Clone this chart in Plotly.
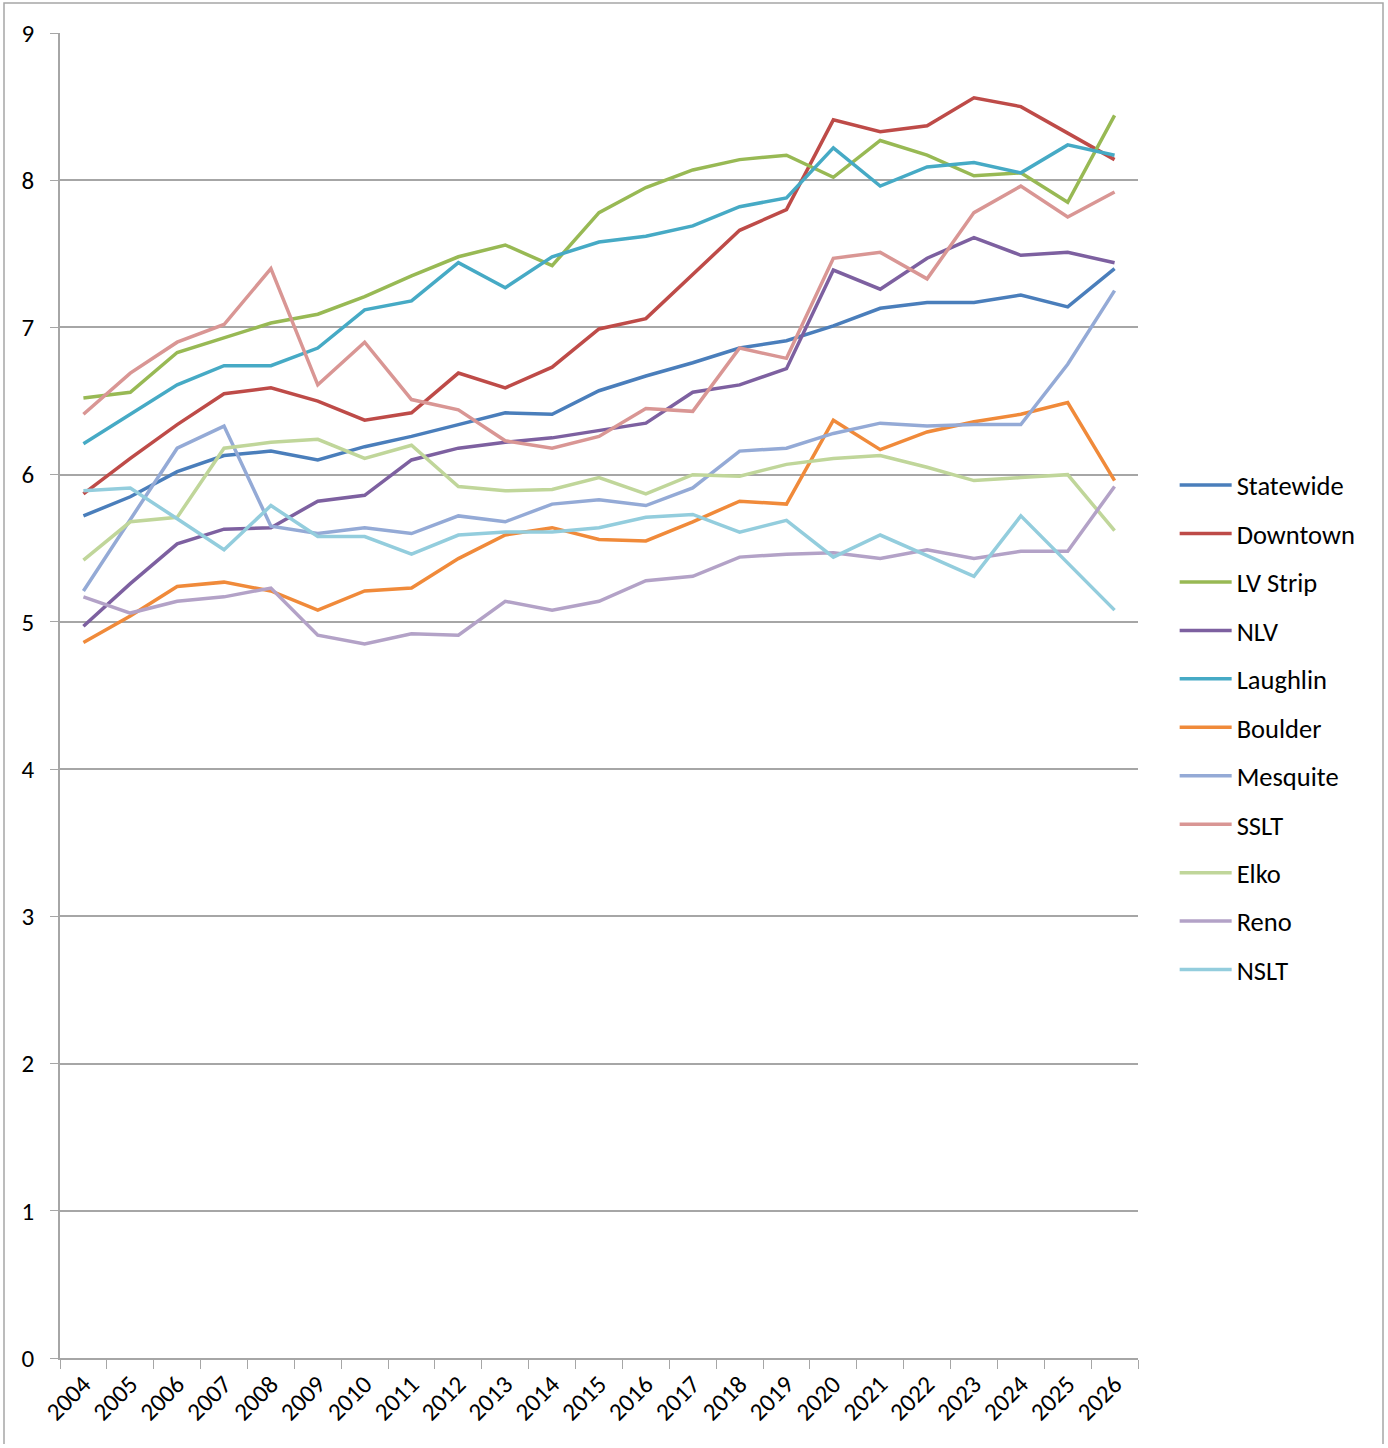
import plotly.graph_objects as go

years = [str(y) for y in range(2004, 2027)]

statewide = [5.72, 5.85, 6.02, 6.13, 6.16, 6.10, 6.19, 6.26, 6.34, 6.42, 6.41, 6.57, 6.67, 6.76, 6.86, 6.91, 7.01, 7.13, 7.17, 7.17, 7.22, 7.14, 7.40]
downtown = [5.87, 6.11, 6.34, 6.55, 6.59, 6.50, 6.37, 6.42, 6.69, 6.59, 6.73, 6.99, 7.06, 7.36, 7.66, 7.80, 8.41, 8.33, 8.37, 8.56, 8.50, 8.32, 8.14]
lv_strip = [6.52, 6.56, 6.83, 6.93, 7.03, 7.09, 7.21, 7.35, 7.48, 7.56, 7.42, 7.78, 7.95, 8.07, 8.14, 8.17, 8.02, 8.27, 8.17, 8.03, 8.05, 7.85, 8.44]
nlv = [4.97, 5.26, 5.53, 5.63, 5.64, 5.82, 5.86, 6.10, 6.18, 6.22, 6.25, 6.30, 6.35, 6.56, 6.61, 6.72, 7.39, 7.26, 7.47, 7.61, 7.49, 7.51, 7.44]
laughlin = [6.21, 6.41, 6.61, 6.74, 6.74, 6.86, 7.12, 7.18, 7.44, 7.27, 7.48, 7.58, 7.62, 7.69, 7.82, 7.88, 8.22, 7.96, 8.09, 8.12, 8.05, 8.24, 8.17]
boulder = [4.86, 5.04, 5.24, 5.27, 5.21, 5.08, 5.21, 5.23, 5.43, 5.59, 5.64, 5.56, 5.55, 5.68, 5.82, 5.80, 6.37, 6.17, 6.29, 6.36, 6.41, 6.49, 5.96]
mesquite = [5.21, 5.69, 6.18, 6.33, 5.65, 5.60, 5.64, 5.60, 5.72, 5.68, 5.80, 5.83, 5.79, 5.91, 6.16, 6.18, 6.28, 6.35, 6.33, 6.34, 6.34, 6.75, 7.25]
sslt = [6.41, 6.69, 6.90, 7.02, 7.40, 6.61, 6.90, 6.51, 6.44, 6.23, 6.18, 6.26, 6.45, 6.43, 6.86, 6.79, 7.47, 7.51, 7.33, 7.78, 7.96, 7.75, 7.92]
elko = [5.42, 5.68, 5.71, 6.18, 6.22, 6.24, 6.11, 6.20, 5.92, 5.89, 5.90, 5.98, 5.87, 6.00, 5.99, 6.07, 6.11, 6.13, 6.05, 5.96, 5.98, 6.00, 5.62]
reno = [5.17, 5.06, 5.14, 5.17, 5.23, 4.91, 4.85, 4.92, 4.91, 5.14, 5.08, 5.14, 5.28, 5.31, 5.44, 5.46, 5.47, 5.43, 5.49, 5.43, 5.48, 5.48, 5.92]
nslt = [5.89, 5.91, 5.70, 5.49, 5.79, 5.58, 5.58, 5.46, 5.59, 5.61, 5.61, 5.64, 5.71, 5.73, 5.61, 5.69, 5.44, 5.59, 5.45, 5.31, 5.72, 5.40, 5.08]

series_names = ["Statewide", "Downtown", "LV Strip", "NLV", "Laughlin", "Boulder",
                "Mesquite", "SSLT", "Elko", "Reno", "NSLT"]
series_values = [statewide, downtown, lv_strip, nlv, laughlin, boulder,
                 mesquite, sslt, elko, reno, nslt]
series_colors = ["#4A7EBB", "#BE4B48", "#98B954", "#7D60A0", "#46AAC5", "#F08A3A",
                 "#94AAD6", "#D99694", "#C0D69A", "#B3A2C7", "#93CDDD"]

FONT = "Carlito, Lato, 'Open Sans', sans-serif"

W, H = 1386, 1444
L, T = 60, 33
PW, PH = 1078, 1325

fig = go.Figure()
for i, (name, vals, col) in enumerate(zip(series_names, series_values, series_colors)):
    fig.add_trace(go.Scatter(
        x=years, y=vals, name=name, mode="lines",
        line=dict(color=col, width=3.5),
        legendgroup="g%d" % i,
    ))

# outer chart border (left, top, right sides) in paper coordinates
bx0 = (4 - L) / PW
bx1 = (1383 - L) / PW
by_top = (T + PH - 3) / PH
by_bot = (T + PH - 1500) / PH

fig.update_layout(
    width=W, height=H,
    margin=dict(l=L, r=W - L - PW, t=T, b=H - T - PH),
    paper_bgcolor="white", plot_bgcolor="white",
    font=dict(family=FONT, size=26, color="black"),
    showlegend=True,
    legend=dict(
        x=1.034, xanchor="left", y=0.476, yanchor="middle",
        font=dict(family=FONT, size=26.5, color="black"),
        tracegroupgap=11, itemwidth=52,
        bgcolor="rgba(0,0,0,0)",
    ),
    xaxis=dict(
        type="category", range=[-0.5, 22.5],
        showgrid=False, showline=True, linecolor="#A6A6A6", linewidth=1.5,
        ticks="outside", tickson="boundaries", ticklen=9, tickcolor="#A6A6A6",
        tickangle=-45, tickfont=dict(family=FONT, size=25, color="black"),
    ),
    yaxis=dict(
        range=[0, 9], dtick=1, tick0=0,
        showgrid=True, gridcolor="#A6A6A6", gridwidth=1.5,
        showline=True, linecolor="#A6A6A6", linewidth=1.5,
        ticks="outside", ticklen=8, tickcolor="#A6A6A6",
        tickfont=dict(family=FONT, size=25, color="black"),
        ticklabelstandoff=11, zeroline=False,
    ),
    shapes=[dict(
        type="path", xref="paper", yref="paper",
        path="M %f %f L %f %f L %f %f L %f %f" % (bx0, by_bot, bx0, by_top, bx1, by_top, bx1, by_bot),
        line=dict(color="#A6A6A6", width=1.5),
        layer="below",
    )],
)

fig.write_html("out.html", config={"displayModeBar": False},
               post_script="document.body.style.margin='0';")
